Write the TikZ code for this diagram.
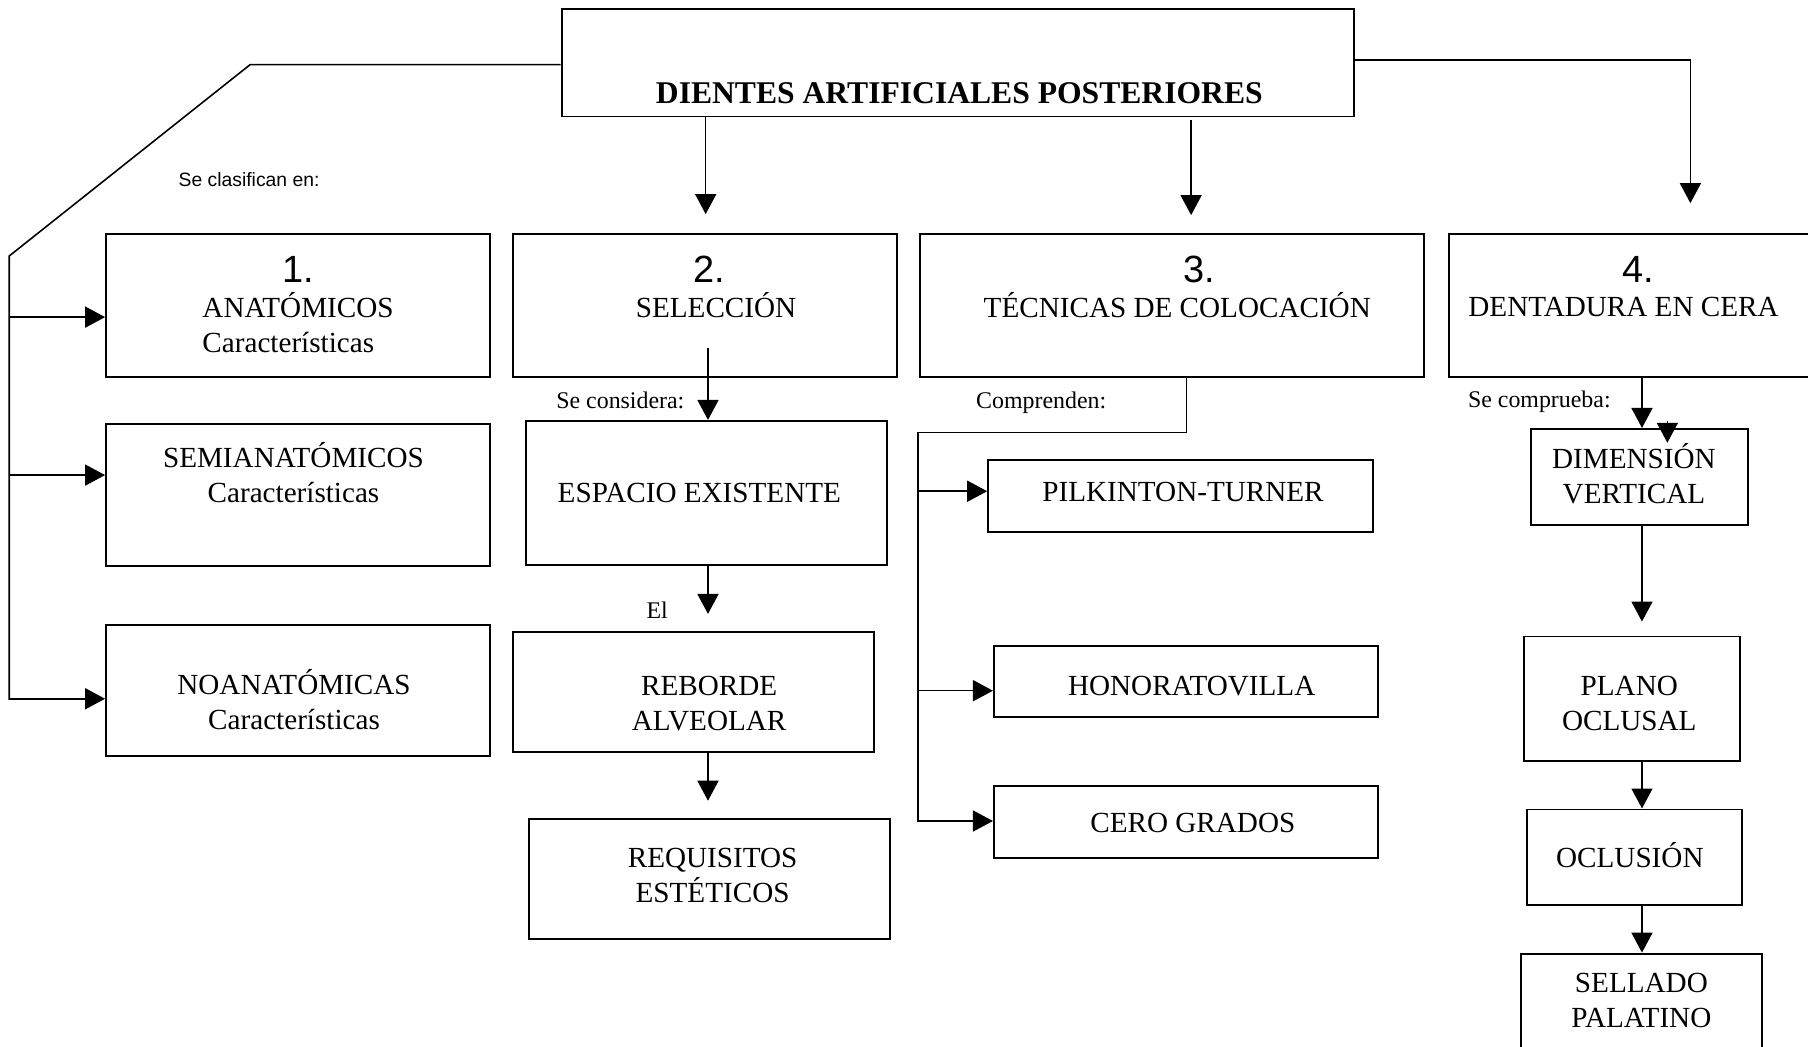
\documentclass[tikz,border=0pt]{standalone}
\usepackage{fontspec}
\setmainfont{Liberation Serif}
\newfontfamily\arialfont{Liberation Sans}
\usetikzlibrary{arrows.meta,positioning,fit}
\tikzset{%
  caja/.style = {rectangle,draw,solid,line width=.55pt,inner sep=0pt},
  txt/.style = {align=center,font=\fontsize{8.3}{9.9}\selectfont},
  linea/.style = {line width=.45pt},
  flecha/.style = {-{Triangle[length=2mm,width=2.1mm]},line width=.45pt},
  nota/.style = {font=\fontsize{6.8}{8}\selectfont,anchor=base}
}
\newcommand{\numero}[1]{{\arialfont\fontsize{10.8}{10.8}\selectfont #1}}

\begin{document}
\begin{tikzpicture}[x=0.011531cm,y=-0.011531cm]
        \useasboundingbox (0,0) rectangle (1568,908);
        % titulo
        \node[caja, fit={(487,8) (1174,101)}] (dap) {};
        \node[font=\fontsize{9}{11}\selectfont\bfseries] (daptx) at (832,81) {DIENTES ARTIFICIALES POSTERIORES};
        % 1. clasificacion
        \node[caja, fit={(92,203) (425,327)}] (ana) {};
        \node[caja, fit={(92,368) (425,491)}] (sem) {};
        \node[caja, fit={(92,542) (425,656)}] (noa) {};
        \node[txt] (anatx) at (258.5,268.5) {\numero{1.}\\\begin{tabular}[t]{@{}l@{}}ANATÓMICOS\\Características\end{tabular}};
        \node[txt] (semtx) at (254.5,425) {SEMIANATÓMICOS\\Características\\~};
        \node[txt] (noatx) at (255,607) {NOANATÓMICAS\\Características};
        \node[font=\arialfont\fontsize{5.5}{6}\selectfont, anchor=base] (clas) at (216,162) {Se clasifican en:};
        % 2. seleccion
        \node[caja, fit={(445,203) (778,327)}] (sel) {};
        \node[caja, fit={(456,365) (769,490)}] (esp) {};
        \node[caja, fit={(445,548) (758,652)}] (reb) {};
        \node[caja, fit={(459,710) (772,814)}] (req) {};
        \node[txt] (seltx) at (621,263.5) {\numero{2.}\hspace*{0.13cm}\\SELECCIÓN\\~};
        \node[txt] (esptx) at (606.5,427.5) {ESPACIO EXISTENTE};
        \node[txt] (rebtx) at (615,610) {REBORDE\\ALVEOLAR};
        \node[txt] (reqtx) at (618,759) {REQUISITOS\\ESTÉTICOS};
        \node[nota] (cons) at (538,354) {Se considera:};
        \node[nota] (el) at (570,536) {El};
        % 3. tecnicas
        \node[caja, fit={(798,203) (1235,327)}] (tec) {};
        \node[caja, fit={(857,399) (1191,461)}] (pil) {};
        \node[caja, fit={(862,560) (1195,622)}] (hon) {};
        \node[caja, fit={(862,682) (1195,744)}] (cer) {};
        \node[txt] (tectx) at (1021,263.5) {\hspace*{0.44cm}\numero{3.}\\TÉCNICAS DE COLOCACIÓN\\~};
        \node[txt] (piltx) at (1026,427) {PILKINTON-TURNER};
        \node[txt] (hontx) at (1033.5,595) {HONORATOVILLA};
        \node[txt] (certx) at (1034.5,714) {CERO GRADOS};
        \node[nota] (comp) at (903,354) {Comprenden:};
        % 4. dentadura en cera
        \node[caja, fit={(1257,203) (1572,327)}] (den) {};
        \node[caja, fit={(1328,372) (1516,455)}] (dim) {};
        \node[caja, fit={(1322,552) (1509,660)}] (pla) {};
        \node[caja, fit={(1324,702) (1511,785)}] (ocl) {};
        \node[caja, fit={(1319,827) (1528,912)}] (sep) {};
        \node[txt] (dentx) at (1408,263.5) {\hspace*{0.3cm}\numero{4.}\\DENTADURA EN CERA\\~};
        \node[txt] (dimtx) at (1417,410.5) {DIMENSIÓN\\VERTICAL};
        \node[txt] (platx) at (1413,610) {PLANO\\OCLUSAL};
        \node[txt] (ocltx) at (1413.5,741.5) {OCLUSIÓN};
        \node[txt] (septx) at (1423.5,867.5) {SELLADO\\PALATINO};
        \node[nota] (compr) at (1335,353) {Se comprueba:};

        % conectores clasificacion
        \coordinate (a1) at (217,56);
        \coordinate (a2) at (8,222);
        \coordinate (a3) at (8,607);
        \draw[linea] (dap.west |- a1) -- (a1) -- (a2) -- (a3);
        \coordinate (b1) at (8,275);
        \coordinate (b2) at (8,412);
        \coordinate (b3) at (8,606);
        \draw[flecha] (b1) -- (b1 -| ana.west);
        \draw[flecha] (b2) -- (b2 -| sem.west);
        \draw[flecha] (b3) -- (b3 -| noa.west);
        % conectores seleccion
        \coordinate (s0) at (612,0);
        \coordinate (s1) at (614,302);
        \draw[flecha,shorten >=0.19cm] (dap.south -| s0) -- (sel.north -| s0);
        \draw[flecha] (s1) -- (s1 |- esp.north);
        \draw[flecha,shorten >=0.17cm] (esp.south -| s1) -- (reb.north -| s1);
        \draw[flecha,shorten >=0.17cm] (reb.south -| s1) -- (req.north -| s1);
        % conectores tecnicas
        \coordinate (t0) at (1033,0);
        \draw[flecha,shorten <=0.03cm,shorten >=0.18cm] (dap.south -| t0) -- (tec.north -| t0);
        \coordinate (c1) at (1029,375);
        \coordinate (c2) at (796,375);
        \coordinate (c3) at (796,713);
        \draw[linea] (tec.south -| c1) -- (c1) -- (c2) -- (c3);
        \coordinate (d1) at (796,426);
        \coordinate (d2) at (796,599);
        \coordinate (d3) at (796,712);
        \draw[flecha] (d1) -- (d1 -| pil.west);
        \draw[flecha] (d2) -- (d2 -| hon.west);
        \draw[flecha] (d3) -- (d3 -| cer.west);
        % conectores dentadura
        \coordinate (r1) at (1466,52);
        \draw[flecha,shorten >=0.3cm] (dap.east |- r1) -- (r1) -- (r1 |- den.north);
        \coordinate (e1) at (1424,0);
        \coordinate (e2) at (1446,365);
        \coordinate (e3) at (1446,384);
        \draw[flecha] (den.south -| e1) -- (dim.north -| e1);
        \draw[flecha] (e2) -- (e3);
        \draw[flecha,shorten >=0.14cm] (dim.south -| e1) -- (pla.north -| e1);
        \draw[flecha] (pla.south -| e1) -- (ocl.north -| e1);
        \draw[flecha] (ocl.south -| e1) -- (sep.north -| e1);
\end{tikzpicture}
\end{document}
